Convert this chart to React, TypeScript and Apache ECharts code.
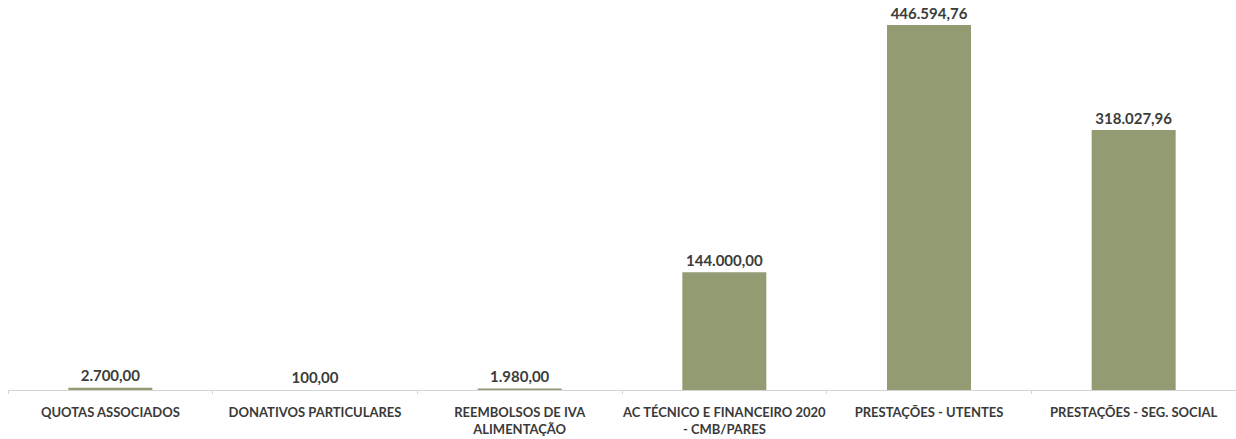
import React, { useEffect, useRef } from "react";
import * as echarts from "echarts";

const categories = [
  "QUOTAS ASSOCIADOS",
  "DONATIVOS PARTICULARES",
  "REEMBOLSOS DE IVA\nALIMENTAÇÃO",
  "AC TÉCNICO E FINANCEIRO 2020\n- CMB/PARES",
  "PRESTAÇÕES - UTENTES",
  "PRESTAÇÕES - SEG. SOCIAL",
];
const values = [2700.0, 100.0, 1980.0, 144000.0, 446594.76, 318027.96];

function fmtPt(v: number): string {
  const fixed = v.toFixed(2);
  const [intPart, dec] = fixed.split(".");
  const withDots = intPart.replace(/\B(?=(\d{3})+(?!\d))/g, ".");
  return withDots + "," + dec;
}

export default function App() {
  const ref = useRef<HTMLDivElement>(null);
  useEffect(() => {
    if (!ref.current) return;
    const chart = echarts.init(ref.current, null, { renderer: "svg" });
    chart.setOption({
      animation: false,
      backgroundColor: "#ffffff",
      grid: { left: 8, right: -5, top: 25, bottom: 49, containLabel: false },
      xAxis: {
        type: "category",
        data: categories,
        axisLine: { show: true, lineStyle: { color: "#d4d4d4", width: 1 } },
        axisTick: { show: true, length: 4, lineStyle: { color: "#d4d4d4" } },
        axisLabel: {
          interval: 0,
          margin: 13,
          color: "#3a3a3a",
          fontFamily: "Lato",
          fontWeight: "bold",
          fontSize: 13,
          lineHeight: 17,
        },
      },
      yAxis: {
        type: "value",
        min: 0,
        max: 446594.76,
        show: false,
        splitLine: { show: false },
      },
      series: [
        {
          type: "bar",
          data: values,
          barWidth: 84,
          itemStyle: { color: "#929b72" },
          label: {
            show: true,
            position: "top",
            distance: 5,
            color: "#3a3d3a",
            fontFamily: "Lato",
            fontWeight: "bold",
            fontSize: 15,
            formatter: (p: any) => fmtPt(p.value),
          },
        },
      ],
    });
    return () => chart.dispose();
  }, []);
  return (
    <div
      ref={ref}
      style={{ position: "fixed", left: 0, top: 0, width: 1236, height: 439 }}
    />
  );
}
